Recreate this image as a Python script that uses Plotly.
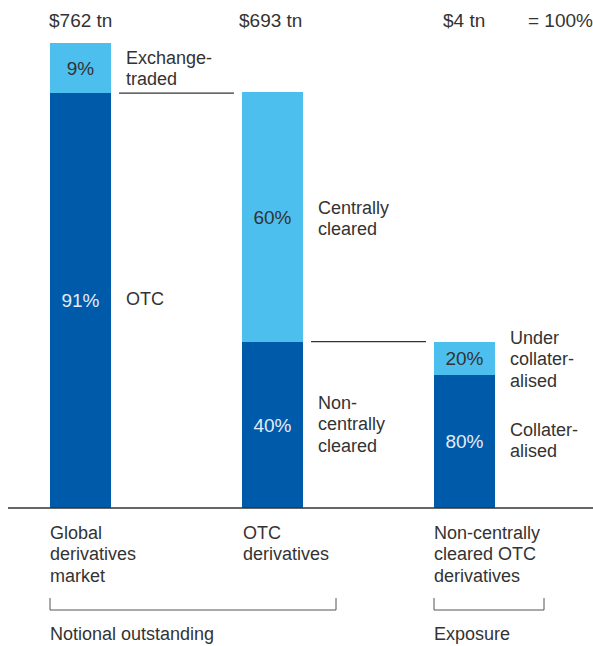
import plotly.graph_objects as go

# ---- data ----
categories = ["Global derivatives market", "OTC derivatives", "Non-centrally cleared OTC derivatives"]
totals = ["$762 tn", "$693 tn", "$4 tn"]
bottom_pct = ["91%", "40%", "80%"]
top_pct = ["9%", "60%", "20%"]
# drawn segment heights (share of first bar = 100)
bottom_height = [89.2, 35.8, 28.6]
top_height = [10.8, 53.6, 7.2]
bottom_names = ["OTC", "Non-\ncentrally\ncleared", "Collater-\nalised"]
top_names = ["Exchange-\ntraded", "Centrally\ncleared", "Under\ncollater-\nalised"]
group_labels = ["Notional outstanding", "Exposure"]

DARK = "#005AAA"
LIGHT = "#4DBFEE"
TXT = "#333333"
FONT = "Liberation Sans"
FS = 18
FSN = 19

W, H = 593, 646
x = [0, 1, 2]
BW = 0.318

fig = go.Figure()
fig.add_trace(go.Bar(x=x, y=bottom_height, width=BW, marker=dict(color=DARK, line=dict(width=0)),
                     text=bottom_pct, textposition="inside", insidetextanchor="middle",
                     textangle=0, constraintext="none",
                     textfont=dict(family=FONT, size=FSN, color="#e4ecf6"), hoverinfo="skip"))
fig.add_trace(go.Bar(x=x, y=top_height, width=BW, marker=dict(color=LIGHT, line=dict(width=0)),
                     text=top_pct, textposition="inside", insidetextanchor="middle",
                     textangle=0, constraintext="none",
                     textfont=dict(family=FONT, size=FSN, color=TXT), hoverinfo="skip"))

# pixel helpers for layout
def px(xp):
    return xp / W

def py(yp):
    return 1 - yp / H

annotations = []

def label(text, xp, yp_first, anchor="left", lh=21.3, color=TXT, size=FS):
    shift = {"left": -2, "right": 2, "center": 0}[anchor]
    for k, line in enumerate(text.split("\n")):
        annotations.append(dict(text=line, x=px(xp + shift), y=py(yp_first + k * lh), xref="paper", yref="paper",
                                xanchor=anchor, yanchor="middle", showarrow=False,
                                font=dict(family=FONT, size=size, color=color)))

# totals on top
for xc, t in zip([80.5, 270, 464], totals):
    label(t, xc, 20, anchor="center", size=FSN)
label("= 100%", 593, 20, anchor="right", size=FSN)

# side labels
label(top_names[0], 126, 58)
label(bottom_names[0], 126, 299)
label(top_names[1], 318, 208)
label(bottom_names[1], 318, 403)
label(top_names[2], 510, 338)
label(bottom_names[2], 510, 430)

# category labels below
label("Global\nderivatives\nmarket", 50, 533)
label("OTC\nderivatives", 243, 533)
label("Non-centrally\ncleared OTC\nderivatives", 434, 533)
label(group_labels[0], 50, 634)
label(group_labels[1], 434, 634)

shapes = []
# connectors between bars
gap = 8 / 192
for i in range(2):
    shapes.append(dict(type="line", xref="x", yref="y",
                       x0=x[i] + BW / 2 + gap, x1=x[i + 1] - BW / 2 - gap,
                       y0=bottom_height[i], y1=bottom_height[i],
                       line=dict(color=TXT, width=1.2)))
# baseline
shapes.append(dict(type="line", xref="paper", yref="y", x0=px(8), x1=1, y0=0, y1=0,
                   line=dict(color=TXT, width=1.5)))
# brackets
for a, b in [(50, 336), (434, 544)]:
    shapes.append(dict(type="path", xref="paper", yref="paper",
                       path=f"M {px(a)},{py(598)} L {px(a)},{py(610)} L {px(b)},{py(610)} L {px(b)},{py(598)}",
                       line=dict(color="#555555", width=1)))

fig.update_layout(
    width=W, height=H,
    margin=dict(l=0, r=0, t=0, b=0),
    paper_bgcolor="white", plot_bgcolor="white",
    barmode="stack", bargap=0, showlegend=False,
    xaxis=dict(range=[-80.5 / 192, (593 - 80.5) / 192], visible=False, fixedrange=True),
    yaxis=dict(range=[-(646 - 508) / 4.65, 508 / 4.65], visible=False, fixedrange=True),
    annotations=annotations, shapes=shapes,
    uniformtext=dict(minsize=FSN, mode="show"),
)

fig.write_html("out.html", config={"displayModeBar": False},
               post_script="document.body.style.margin='0';document.body.style.overflow='hidden';")
